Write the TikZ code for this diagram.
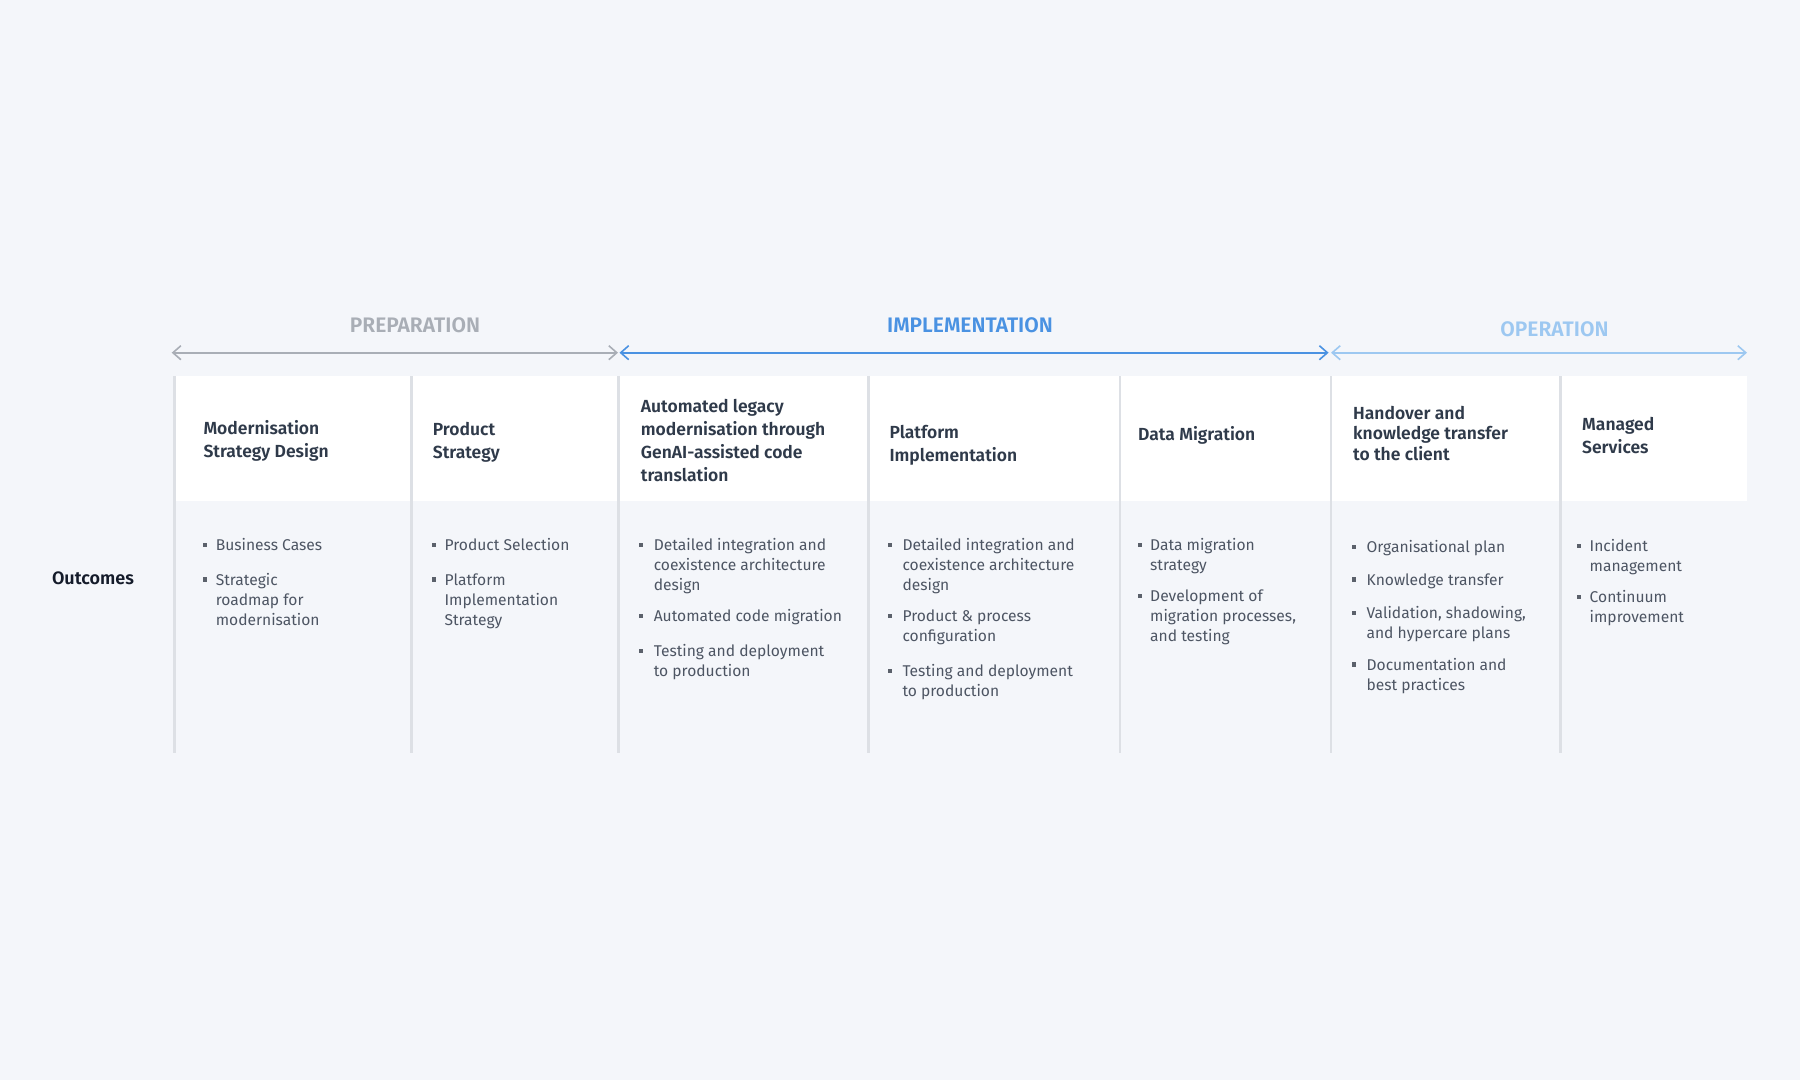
\documentclass[tikz,border=0pt]{standalone}
\usepackage{fontspec}
\setmainfont{Fira Sans}[BoldFont={Fira Sans SemiBold}]
\usetikzlibrary{arrows.meta}
\definecolor{bgc}{HTML}{F4F6FA}
\definecolor{sepc}{HTML}{DDE0E5}
\definecolor{hdrc}{HTML}{2F3A4A}
\definecolor{bodyc}{HTML}{4D5563}
\definecolor{bulc}{HTML}{5B616B}
\definecolor{prepc}{HTML}{A9AEB6}
\definecolor{implc}{HTML}{4A92E2}
\definecolor{operc}{HTML}{9DC8F1}
\definecolor{outc}{HTML}{141B2A}
% #1 name, #2 bullet x, #3 text x, #4 first baseline, #5 number of lines, #6 text
\newcommand{\bitem}[6]{%
  \node[bulsq] (#1sq) at (#2,#4-5.5) {};
  \node[bodytxt] (#1) at (#3,#4+#5*20-20) {#6};}
\begin{document}
\begin{tikzpicture}[x=1pt,y=-1pt,
  sepline/.style={draw=sepc,line width=2.5pt},
  hdrtxt/.style={font=\bfseries\fontsize{17.5}{23}\selectfont,text=hdrc,anchor=base west,inner sep=0pt,align=left},
  bodytxt/.style={font=\fontsize{15.6}{20}\selectfont,text=bodyc,anchor=base west,inner sep=0pt,align=left},
  bulsq/.style={fill=bulc,minimum size=4.2pt,inner sep=0pt,draw=none},
  phase/.style={font=\bfseries\fontsize{21}{22}\selectfont,inner sep=0pt,anchor=center},
  phasearrow/.style={line width=1.6pt,{Straight Barb[length=8pt,width=14pt,line width=1.6pt]}-{Straight Barb[length=8pt,width=14pt,line width=1.6pt]}}]
\useasboundingbox (0,0) rectangle (1800,1080);
\fill[bgc] (0,0) rectangle (1800,1080);
% header band
\fill[white] (174,376) rectangle (1746.5,500.7);
% separators
\foreach \xx [count=\i] in {174.3,411.7,618.3,868.3,1120,1330.8,1560.7}
  \draw[sepline] (\xx,376) coordinate (st\i) -- (\xx,753) coordinate (sb\i);
% phases
\node[phase,text=prepc] (prep) at (415,325) {PREPARATION};
\node[phase,text=implc] (impl) at (970,325.5) {IMPLEMENTATION};
\node[phase,text=operc] (oper) at (1554.5,329) {OPERATION};
\coordinate (a1) at (171.7,352.7);
\coordinate (a2) at (618,352.7);
\coordinate (a3) at (619.5,352.7);
\coordinate (a4) at (1328.6,352.7);
\coordinate (a5) at (1331,352.7);
\coordinate (a6) at (1747,352.7);
\draw[phasearrow,prepc] (a1) -- (a2);
\draw[phasearrow,implc] (a3) -- (a4);
\draw[phasearrow,operc] (a5) -- (a6);
% headers (anchored at the baseline of the last line)
\node[hdrtxt] (h1) at (203.3,457) {Modernisation\\Strategy Design};
\node[hdrtxt] (h2) at (432.7,458) {Product\\Strategy};
\node[hdrtxt] (h3) at (640.7,481) {Automated legacy\\modernisation through\\GenAI-assisted code\\translation};
\node[hdrtxt] (h4) at (889.3,461.7) {Platform\\Implementation};
\node[hdrtxt] (h5) at (1138,440.7) {Data Migration};
\node[hdrtxt,font=\bfseries\fontsize{17.5}{20.5}\selectfont] (h6) at (1353,460) {Handover and\\knowledge transfer\\to the client};
\node[hdrtxt] (h7) at (1582,453.4) {Managed\\Services};
% outcomes label
\node[font=\bfseries\fontsize{18}{20}\selectfont,text=outc,anchor=base west,inner sep=0pt] (outc) at (51.8,584) {Outcomes};
% column 1
\bitem{c1a}{205}{215.6}{550.7}{1}{Business Cases}
\bitem{c1b}{205}{215.6}{585}{3}{Strategic\\roadmap for\\modernisation}
% column 2
\bitem{c2a}{434}{444.4}{550.7}{1}{Product Selection}
\bitem{c2b}{434}{444.4}{585}{3}{Platform\\Implementation\\Strategy}
% column 3
\bitem{c3a}{641.3}{653.6}{550.7}{3}{Detailed integration and\\coexistence architecture\\design}
\bitem{c3b}{641.3}{653.6}{621.7}{1}{Automated code migration}
\bitem{c3c}{641.3}{653.6}{656.7}{2}{Testing and deployment\\to production}
% column 4
\bitem{c4a}{890}{902.3}{550.7}{3}{Detailed integration and\\coexistence architecture\\design}
\bitem{c4b}{890}{902.3}{621.7}{2}{Product \& process\\configuration}
\bitem{c4c}{890}{902.3}{676.7}{2}{Testing and deployment\\to production}
% column 5
\bitem{c5a}{1139.6}{1150}{550.7}{2}{Data migration\\strategy}
\bitem{c5b}{1139.6}{1150}{601.7}{3}{Development of\\migration processes,\\and testing}
% column 6
\bitem{c6a}{1354}{1366.4}{552.3}{1}{Organisational plan}
\bitem{c6b}{1354}{1366.4}{585}{1}{Knowledge transfer}
\bitem{c6c}{1354}{1366.4}{618.3}{2}{Validation, shadowing,\\and hypercare plans}
\bitem{c6d}{1354}{1366.4}{670}{2}{Documentation and\\best practices}
% column 7
\bitem{c7a}{1579}{1589.5}{551.7}{2}{Incident\\management}
\bitem{c7b}{1579}{1589.5}{602.3}{2}{Continuum\\improvement}
\end{tikzpicture}
\end{document}
